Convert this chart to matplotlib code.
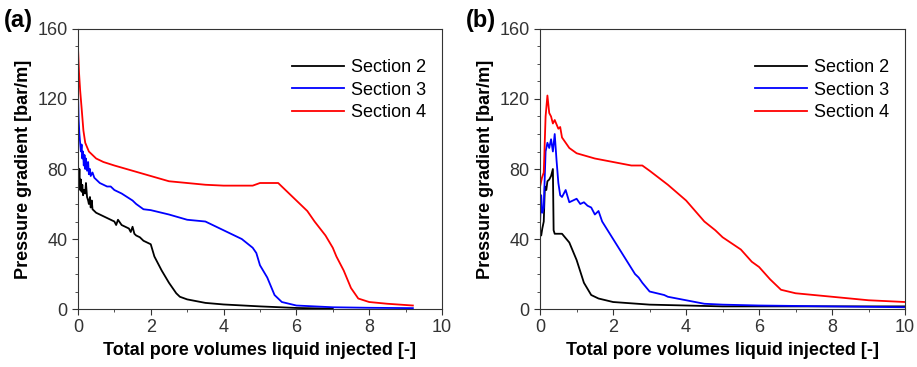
import matplotlib.pyplot as plt
import numpy as np

plt.rcParams['font.family'] = ['Liberation Sans', 'DejaVu Sans']

# panel (a)
a_x2 = [0, 0.02, 0.04, 0.06, 0.08, 0.1, 0.12, 0.14, 0.17, 0.2, 0.22, 0.25, 0.28, 0.3, 0.33, 0.35, 0.38, 0.4,
        0.45, 0.5, 0.6, 0.7, 0.8, 0.9, 1.0, 1.05, 1.1, 1.2, 1.3, 1.4, 1.45, 1.5, 1.55, 1.6, 1.7, 1.8, 1.9, 2.0,
        2.1, 2.3, 2.5, 2.7, 2.8, 3.0, 3.5, 4.0, 5.0, 6.0, 7.0]
a_y2 = [85, 70, 80, 68, 74, 67, 71, 65, 68, 66, 72, 64, 62, 60, 64, 58, 62, 57,
        56, 55, 54, 53, 52, 51, 50, 48, 51, 48, 47, 46, 44, 47, 43, 42, 41, 39, 38, 37,
        30, 22, 15, 9, 7, 5.5, 3.5, 2.6, 1.5, 0.6, 0.2]
a_x3 = [0, 0.02, 0.04, 0.06, 0.08, 0.1, 0.12, 0.14, 0.16, 0.18, 0.2, 0.22, 0.25, 0.28, 0.3, 0.33, 0.35, 0.4,
        0.45, 0.5, 0.6, 0.7, 0.8, 0.9, 1.0, 1.1, 1.2, 1.35, 1.5, 1.6, 1.8, 2.0, 2.5,
        3.0, 3.5, 4.0, 4.5, 4.8, 4.9, 5.0, 5.2, 5.4, 5.6, 6.0, 7.0, 8.0, 9.2]
a_y3 = [125, 108, 100, 95, 90, 94, 86, 90, 82, 88, 80, 86, 79, 84, 77, 80, 76, 78,
        75, 74, 72, 71, 70, 70, 68, 67, 66, 64, 62, 60, 57, 56.5, 54,
        51, 50, 45, 40, 35, 32, 25, 18, 8, 4, 2, 1, 0.7, 0.5]
a_x4 = [0, 0.03, 0.06, 0.1, 0.15, 0.2, 0.3, 0.5, 0.7, 1.0, 1.5, 2.0, 2.5, 3.0, 3.5, 4.0, 4.8, 5.0, 5.5,
        5.7, 6.0, 6.3, 6.5, 6.8, 7.0, 7.1, 7.3, 7.5, 7.7, 8.0, 8.5, 9.2]
a_y4 = [150, 135, 125, 115, 102, 95, 90, 86, 84, 82, 79, 76, 73, 72, 71, 70.5, 70.5, 72, 72,
        68, 62, 56, 50, 42, 35, 30, 22, 12, 6, 4, 3, 2]

# panel (b)
b_x2 = [0, 0.03, 0.06, 0.1, 0.13, 0.17, 0.2, 0.25, 0.3, 0.35, 0.37, 0.4, 0.6, 0.8, 1.0, 1.2, 1.4, 1.6, 2.0, 3.0,
        5.0, 10]
b_y2 = [45, 42, 46, 50, 70, 68, 73, 74, 76, 80, 45, 43, 43, 38, 28, 15, 8, 6, 4, 2.5,
        1.5, 1.5]
b_x3 = [0, 0.03, 0.06, 0.1, 0.15, 0.2, 0.25, 0.3, 0.35, 0.4, 0.45, 0.5, 0.55, 0.6, 0.7, 0.8, 0.9, 1.0, 1.1,
        1.2, 1.3, 1.4, 1.5, 1.6, 1.7, 2.0, 2.3, 2.6, 2.7, 2.8, 3.0, 3.2, 3.4, 3.5, 4.0, 4.5, 5.0, 6.0, 8.0, 10]
b_y3 = [50, 65, 55, 58, 90, 95, 92, 97, 90, 100, 85, 72, 65, 64, 68, 61, 62, 63, 60,
        61, 59, 58, 54, 56, 50, 40, 30, 20, 18, 15, 10, 9, 8, 7, 5, 3, 2.5, 2, 1.5, 1]
b_x4 = [0, 0.05, 0.1, 0.15, 0.2, 0.25, 0.3, 0.35, 0.4, 0.5, 0.55, 0.6, 0.8, 1.0, 1.5, 2.0, 2.5, 2.8, 3.0, 3.5,
        4.0, 4.5, 4.8, 5.0, 5.5, 5.8, 6.0, 6.3, 6.6, 7.0, 8.0, 9.0, 10]
b_y4 = [70, 75, 78, 110, 122, 112, 110, 106, 108, 103, 104, 98, 92, 89, 86, 84, 82, 82, 79, 71,
        62, 50, 45, 41, 34, 27, 24, 17, 11, 9, 7, 5, 4]

labels = ['Section 2', 'Section 3', 'Section 4']
colors = ['black', '#0000ff', '#ff0000']

fig = plt.figure(figsize=(9.17, 3.67), dpi=100)
ax1 = fig.add_axes([0.085, 0.158, 0.397, 0.763])
ax2 = fig.add_axes([0.589, 0.158, 0.398, 0.763])

panels = [
    (ax1, [(a_x2, a_y2), (a_x3, a_y3), (a_x4, a_y4)], '(a)', 0.004),
    (ax2, [(b_x2, b_y2), (b_x3, b_y3), (b_x4, b_y4)], '(b)', 0.508),
]

for ax, series, tag, tx in panels:
    for (xs, ys), lab, c in zip(series, labels, colors):
        ax.plot(xs, ys, color=c, lw=1.3, label=lab)
    ax.set_xlim(0, 10)
    ax.set_ylim(0, 160)
    ax.set_xticks(np.arange(0, 11, 2))
    ax.set_xticks(np.arange(1, 10, 2), minor=True)
    ax.set_yticks(np.arange(0, 161, 40))
    ax.set_yticks(np.arange(0, 161, 10), minor=True)
    ax.tick_params(axis='both', which='major', direction='out', length=4, labelsize=13, colors='#333333')
    ax.tick_params(axis='both', which='minor', direction='out', length=2, colors='#333333')
    for s in ax.spines.values():
        s.set_color('#333333')
    ax.set_xlabel('Total pore volumes liquid injected [-]', fontsize=13, fontweight='bold')
    ax.set_ylabel('Pressure gradient [bar/m]', fontsize=13, fontweight='bold')
    ax.legend(loc='upper right', frameon=False, fontsize=13, handlelength=2.9, handletextpad=0.35,
              bbox_to_anchor=(1.0, 0.95), labelspacing=0.3)
    fig.text(tx, 0.945, tag, fontsize=17, fontweight='bold', va='center', ha='left')

fig.savefig('out.png', dpi=100)
